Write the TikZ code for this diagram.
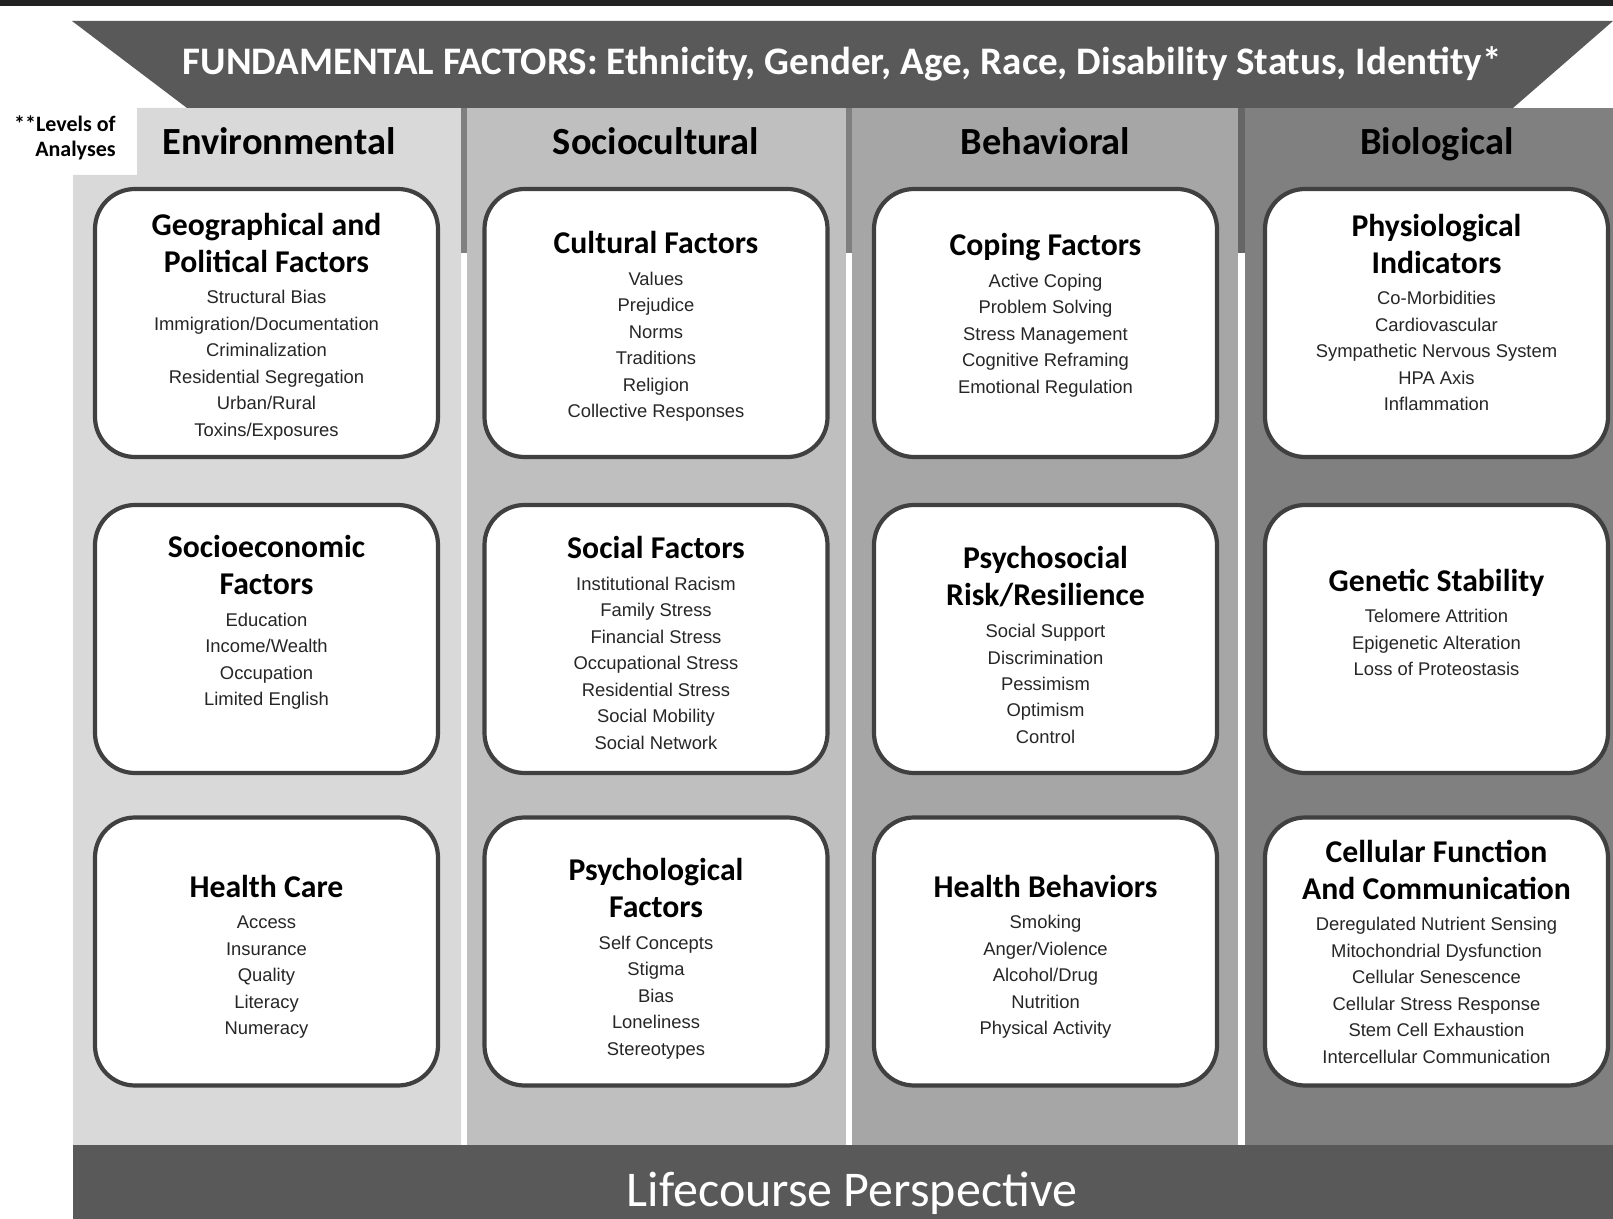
\documentclass[tikz,border=0pt]{standalone}
\usepackage{fontspec}
\setmainfont{Carlito}
\newfontfamily\itemfamily{Liberation Sans}

\definecolor{bannergray}{HTML}{595959}
\definecolor{envgray}{HTML}{D9D9D9}
\definecolor{socgray}{HTML}{BFBFBF}
\definecolor{behgray}{HTML}{A6A6A6}
\definecolor{biogray}{HTML}{808080}
\definecolor{stripegray}{HTML}{7F7F7F}
\definecolor{stripedark}{HTML}{666666}
\definecolor{boxline}{HTML}{404040}
\definecolor{itemgray}{HTML}{262626}
\definecolor{topline}{HTML}{222222}

% title lines in bold, item list below in a smaller sans face
\newcommand\factortext[2]{\vtop{\hsize=170pt\centering
  \fontsize{15.85}{18.5}\bfseries\selectfont #1\par
  \vskip2.5pt
  \leavevmode\itemfamily\mdseries\fontsize{9.2}{13.25}\selectfont\color{itemgray}#2\par}}

\tikzset{
  factorbox/.style={draw=boxline, line width=2.1pt, fill=white, rounded corners=20pt,
    minimum width=171.5pt, minimum height=134pt, inner sep=0pt},
  factortitle/.style={anchor=base, inner sep=0pt, text=black},
  levelhead/.style={anchor=base, inner sep=0pt, text=black,
    font=\bfseries\fontsize{19.2}{23}\selectfont},
}

\begin{document}
\begin{tikzpicture}[x=0.5pt,y=-0.5pt]
\useasboundingbox (0,0) rectangle (1613,1219);
\fill[white] (0,0) rectangle (1613,1219);

% rule along the top edge
\fill[topline] (0,0) rectangle (1613,6);

% columns for the four levels
\fill[envgray] (137,108) -- (461,108) -- (461,1145) -- (73,1145) -- (73,175) -- (137,175) -- cycle;
\fill[socgray] (467,108) rectangle (846,1145);
\fill[behgray] (852,108) rectangle (1238,1145);
\fill[biogray] (1245,108) rectangle (1613,1145);
\fill[stripegray] (461,108) rectangle (467,253);
\fill[stripegray] (846,108) rectangle (852,253);
\fill[stripedark] (1238,108) rectangle (1245,253);

% top banner
\fill[bannergray] (72,21) -- (1613,21) -- (1513,108) -- (187,108) -- cycle;
\node[anchor=base, inner sep=0pt, text=white, font=\bfseries\fontsize{19.5}{23}\selectfont]
  (fundamental) at (842,75) {FUNDAMENTAL FACTORS: Ethnicity, Gender, Age, Race, Disability Status, Identity*};

% bottom banner
\fill[bannergray] (73,1145) rectangle (1613,1219);
\node[anchor=base, inner sep=0pt, text=white, font=\fontsize{25}{30}\selectfont]
  (lifecourse) at (852,1206) {Lifecourse Perspective};

% side label
\node[anchor=base east, inner sep=0pt, font=\bfseries\fontsize{11}{13}\selectfont] (levels1) at (116,132) {**Levels of};
\node[anchor=base east, inner sep=0pt, font=\bfseries\fontsize{11}{13}\selectfont] (levels2) at (116,157) {Analyses};

% column headings
\node[levelhead] (henv) at (279,155) {Environmental};
\node[levelhead] (hsoc) at (656,155) {Sociocultural};
\node[levelhead] (hbeh) at (1045.5,155) {Behavioral};
\node[levelhead] (hbio) at (1437,155) {Biological};

% factor boxes
\node[factorbox] (env1) at (266.5,323) {};
\node[factorbox] (env2) at (266.5,639) {};
\node[factorbox] (env3) at (266.5,951.5) {};
\node[factorbox] (soc1) at (656,323) {};
\node[factorbox] (soc2) at (656,639) {};
\node[factorbox] (soc3) at (656,951.5) {};
\node[factorbox] (beh1) at (1045.5,323) {};
\node[factorbox] (beh2) at (1045.5,639) {};
\node[factorbox] (beh3) at (1045.5,951.5) {};
\node[factorbox] (bio1) at (1436.5,323) {};
\node[factorbox] (bio2) at (1436.5,639) {};
\node[factorbox] (bio3) at (1436.5,951.5) {};

% box contents
\node[factortitle] (tenv1) at (266.5,235.5) {\factortext{Geographical and\\Political Factors}
  {Structural Bias\\Immigration/Documentation\\Criminalization\\Residential Segregation\\Urban/Rural\\Toxins/Exposures}};
\node[factortitle] (tenv2) at (266.5,558) {\factortext{Socioeconomic\\Factors}
  {Education\\Income/Wealth\\Occupation\\Limited English}};
\node[factortitle] (tenv3) at (266.5,897) {\factortext{Health Care}
  {Access\\Insurance\\Quality\\Literacy\\Numeracy}};

\node[factortitle] (tsoc1) at (656,254) {\factortext{Cultural Factors}
  {Values\\Prejudice\\Norms\\Traditions\\Religion\\Collective Responses}};
\node[factortitle] (tsoc2) at (656,559) {\factortext{Social Factors}
  {Institutional Racism\\Family Stress\\Financial Stress\\Occupational Stress\\Residential Stress\\Social Mobility\\Social Network}};
\node[factortitle] (tsoc3) at (656,880.5) {\factortext{Psychological\\Factors}
  {Self Concepts\\Stigma\\Bias\\Loneliness\\Stereotypes}};

\node[factortitle] (tbeh1) at (1045.5,256) {\factortext{Coping Factors}
  {Active Coping\\Problem Solving\\Stress Management\\Cognitive Reframing\\Emotional Regulation}};
\node[factortitle] (tbeh2) at (1045.5,569) {\factortext{Psychosocial\\Risk/Resilience}
  {Social Support\\Discrimination\\Pessimism\\Optimism\\Control}};
\node[factortitle] (tbeh3) at (1045.5,897) {\factortext{Health Behaviors}
  {Smoking\\Anger/Violence\\Alcohol/Drug\\Nutrition\\Physical Activity}};

\node[factortitle] (tbio1) at (1436.5,236.5) {\factortext{Physiological\\Indicators}
  {Co-Morbidities\\Cardiovascular\\Sympathetic Nervous System\\HPA Axis\\Inflammation}};
\node[factortitle] (tbio2) at (1436.5,591.5) {\factortext{Genetic Stability}
  {Telomere Attrition\\Epigenetic Alteration\\Loss of Proteostasis}};
\node[factortitle] (tbio3) at (1436.5,862) {\factortext{Cellular Function\\And Communication}
  {Deregulated Nutrient Sensing\\Mitochondrial Dysfunction\\Cellular Senescence\\Cellular Stress Response\\Stem Cell Exhaustion\\Intercellular Communication}};
\end{tikzpicture}
\end{document}
